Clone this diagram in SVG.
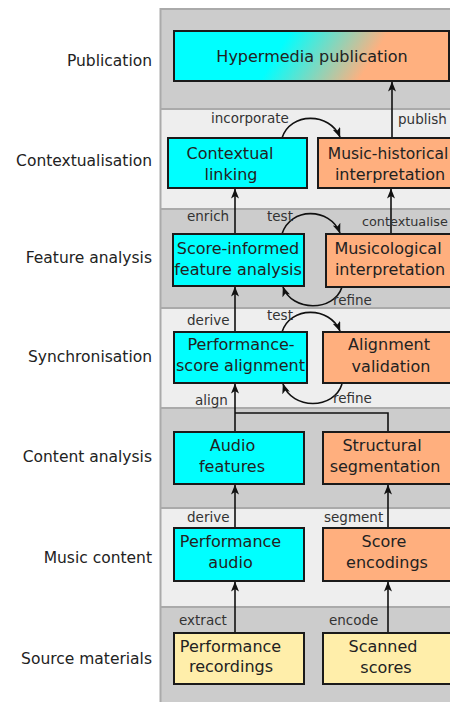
<svg xmlns="http://www.w3.org/2000/svg" width="450" height="702" viewBox="0 0 450 702">
  <defs>
    <marker id="arrow" viewBox="0 0 10 8" refX="9.5" refY="4" markerWidth="10" markerHeight="8" markerUnits="userSpaceOnUse" orient="auto">
      <path d="M0,0 L10,4 L0,8 L2.5,4 z" fill="#111"/>
    </marker>
    <linearGradient id="pubGrad" gradientUnits="userSpaceOnUse" x1="288" y1="35" x2="360" y2="79">
      <stop offset="0" stop-color="#00ffff"/>
      <stop offset="1" stop-color="#ffb07f"/>
    </linearGradient>
  </defs>
  <style>
    .dark { fill: #cccccc; }
    .light { fill: #eeeeee; }
    .sep { stroke: #aaaaaa; stroke-width: 2; }
    .box { stroke: #1a1a1a; stroke-width: 2; }
    .cyan { fill: #00ffff; }
    .orange { fill: #ffaf7e; }
    .yellow { fill: #ffeeaa; }
    text { font-family: "DejaVu Sans", "Liberation Sans", sans-serif; fill: #222; }
    .row { font-size: 15.5px; text-anchor: end; }
    .lbl { font-size: 16px; text-anchor: middle; }
    .edge { font-size: 13.5px; fill: #333; }
    .conn { fill: none; stroke: #111; stroke-width: 1.6; }
  </style>

  <rect x="0" y="0" width="450" height="702" fill="#ffffff"/>

  <!-- layer bands -->
  <g id="bands">
    <rect class="dark" x="160" y="9" width="290" height="100"/>
    <rect class="light" x="160" y="109" width="290" height="100"/>
    <rect class="dark" x="160" y="209" width="290" height="99"/>
    <rect class="light" x="160" y="308" width="290" height="100"/>
    <rect class="dark" x="160" y="408" width="290" height="100"/>
    <rect class="light" x="160" y="508" width="290" height="99"/>
    <rect class="dark" x="160" y="607" width="290" height="95"/>
    <line class="sep" x1="160" y1="9" x2="450" y2="9"/>
    <line class="sep" x1="160" y1="109" x2="450" y2="109"/>
    <line class="sep" x1="160" y1="209" x2="450" y2="209"/>
    <line class="sep" x1="160" y1="308" x2="450" y2="308"/>
    <line class="sep" x1="160" y1="408" x2="450" y2="408"/>
    <line class="sep" x1="160" y1="508" x2="450" y2="508"/>
    <line class="sep" x1="160" y1="607" x2="450" y2="607"/>
    <line x1="160.5" y1="8" x2="160.5" y2="702" stroke="#aaaaaa" stroke-width="2"/>
  </g>

  <!-- layer names -->
  <g id="layer-names">
    <text class="row" x="152" y="66">Publication</text>
    <text class="row" x="152" y="166">Contextualisation</text>
    <text class="row" x="152" y="263">Feature analysis</text>
    <text class="row" x="152" y="362">Synchronisation</text>
    <text class="row" x="152" y="462">Content analysis</text>
    <text class="row" x="152" y="563">Music content</text>
    <text class="row" x="152" y="664">Source materials</text>
  </g>

  <!-- connectors -->
  <g id="connectors">
    <path class="conn" d="M392,138 V82" marker-end="url(#arrow)"/>
    <path class="conn" d="M282,138 C290,112 330,112 340,137" marker-end="url(#arrow)"/>
    <path class="conn" d="M235,234 V189" marker-end="url(#arrow)"/>
    <path class="conn" d="M391,234 V189" marker-end="url(#arrow)"/>
    <path class="conn" d="M282,234 C290,207 330,207 340,233" marker-end="url(#arrow)"/>
    <path class="conn" d="M342,287 C334,312 292,312 283,287" marker-end="url(#arrow)"/>
    <path class="conn" d="M235,332 V287" marker-end="url(#arrow)"/>
    <path class="conn" d="M282,332 C290,306 330,306 340,331" marker-end="url(#arrow)"/>
    <path class="conn" d="M342,384 C334,410 292,410 283,384" marker-end="url(#arrow)"/>
    <path class="conn" d="M235,432 V384" marker-end="url(#arrow)"/>
    <path class="conn" d="M388,432 V413 H235"/>
    <path class="conn" d="M235,528 V485" marker-end="url(#arrow)"/>
    <path class="conn" d="M388,528 V485" marker-end="url(#arrow)"/>
    <path class="conn" d="M235,633 V582" marker-end="url(#arrow)"/>
    <path class="conn" d="M388,633 V582" marker-end="url(#arrow)"/>

    <text class="edge" x="398" y="124">publish</text>
    <text class="edge" x="211" y="123">incorporate</text>
    <text class="edge" x="187" y="221">enrich</text>
    <text class="edge" x="267" y="221">test</text>
    <text class="edge" x="362" y="226" style="font-size:12.8px">contextualise</text>
    <text class="edge" x="333" y="305">refine</text>
    <text class="edge" x="187" y="325">derive</text>
    <text class="edge" x="267" y="320">test</text>
    <text class="edge" x="333" y="403">refine</text>
    <text class="edge" x="195" y="405">align</text>
    <text class="edge" x="187" y="522">derive</text>
    <text class="edge" x="324" y="522">segment</text>
    <text class="edge" x="179" y="625">extract</text>
    <text class="edge" x="329" y="625">encode</text>
  </g>

  <!-- nodes -->
  <g id="hypermedia-publication">
    <rect class="box" x="174" y="31" width="275" height="50" fill="url(#pubGrad)"/>
    <text class="lbl" x="312" y="62">Hypermedia publication</text>
  </g>
  <g id="contextual-linking">
    <rect class="box cyan" x="168" y="138" width="139" height="50"/>
    <text class="lbl" x="230" y="159">Contextual</text>
    <text class="lbl" x="231" y="180">linking</text>
  </g>
  <g id="music-historical-interpretation">
    <rect class="box orange" x="318" y="138" width="150" height="50"/>
    <text class="lbl" x="388" y="159" style="font-size:15.5px">Music-historical</text>
    <text class="lbl" x="390" y="180">interpretation</text>
  </g>
  <g id="score-informed-feature-analysis">
    <rect class="box cyan" x="173" y="234" width="131" height="52"/>
    <text class="lbl" x="238" y="254">Score-informed</text>
    <text class="lbl" x="238" y="275">feature analysis</text>
  </g>
  <g id="musicological-interpretation">
    <rect class="box orange" x="326" y="234" width="140" height="53"/>
    <text class="lbl" x="388" y="254">Musicological</text>
    <text class="lbl" x="390" y="275">interpretation</text>
  </g>
  <g id="performance-score-alignment">
    <rect class="box cyan" x="174" y="332" width="133" height="51"/>
    <text class="lbl" x="241" y="350">Performance-</text>
    <text class="lbl" x="240.5" y="371">score alignment</text>
  </g>
  <g id="alignment-validation">
    <rect class="box orange" x="323" y="332" width="145" height="51"/>
    <text class="lbl" x="389" y="350">Alignment</text>
    <text class="lbl" x="391" y="372">validation</text>
  </g>
  <g id="audio-features">
    <rect class="box cyan" x="174" y="432" width="130" height="52"/>
    <text class="lbl" x="232.5" y="451">Audio</text>
    <text class="lbl" x="232" y="472">features</text>
  </g>
  <g id="structural-segmentation">
    <rect class="box orange" x="323" y="432" width="145" height="52"/>
    <text class="lbl" x="382" y="451">Structural</text>
    <text class="lbl" x="385" y="472">segmentation</text>
  </g>
  <g id="performance-audio">
    <rect class="box cyan" x="174" y="528" width="130" height="53"/>
    <text class="lbl" x="230.5" y="547">Performance</text>
    <text class="lbl" x="230.5" y="568">audio</text>
  </g>
  <g id="score-encodings">
    <rect class="box orange" x="323" y="528" width="145" height="53"/>
    <text class="lbl" x="384" y="547">Score</text>
    <text class="lbl" x="387" y="568">encodings</text>
  </g>
  <g id="performance-recordings">
    <rect class="box yellow" x="174" y="633" width="130" height="51"/>
    <text class="lbl" x="230.5" y="652">Performance</text>
    <text class="lbl" x="231" y="672">recordings</text>
  </g>
  <g id="scanned-scores">
    <rect class="box yellow" x="323" y="633" width="145" height="51"/>
    <text class="lbl" x="383" y="652">Scanned</text>
    <text class="lbl" x="386" y="673">scores</text>
  </g>
</svg>
